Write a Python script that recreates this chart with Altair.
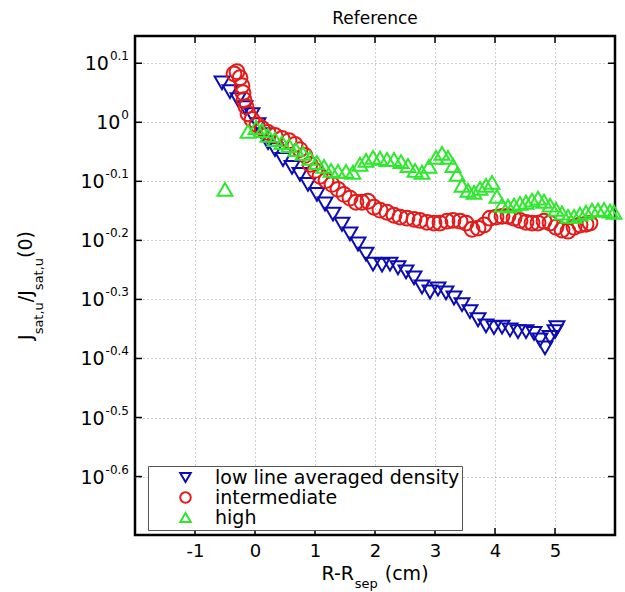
import altair as alt
import pandas as pd

# ---------------- data ----------------
low_x = [-0.55, -0.417, -0.283, -0.167, -0.05, 0.05, 0.133, 0.217, 0.333, 0.467, 0.617, 0.75,
         0.883, 1.033, 1.167, 1.3, 1.45, 1.583, 1.717, 1.85, 1.967, 2.117, 2.25, 2.383, 2.517,
         2.65, 2.783, 2.917, 3.05, 3.183, 3.317, 3.45, 3.583, 3.717, 3.85, 3.983, 4.117, 4.25,
         4.383, 4.517, 4.65, 4.75, 4.833, 4.917, 5.0, 5.033]
low_y = [1.166, 1.127, 1.092, 1.059, 1.030, 0.991, 0.953, 0.924, 0.899, 0.865, 0.839, 0.816,
         0.785, 0.755, 0.727, 0.699, 0.672, 0.647, 0.622, 0.598, 0.575, 0.573, 0.575, 0.567, 0.558,
         0.545, 0.526, 0.516, 0.522, 0.514, 0.504, 0.491, 0.478, 0.463, 0.452, 0.449, 0.450, 0.445,
         0.442, 0.442, 0.439, 0.428, 0.415, 0.432, 0.442, 0.449]

mid_x = [-0.35, -0.3, -0.25, -0.217, -0.2, -0.183, -0.15, -0.117, -0.05, 0.033, 0.117, 0.217,
         0.333, 0.45, 0.567, 0.667, 0.75, 0.833, 0.917, 1.0, 1.083, 1.183, 1.283, 1.383, 1.483,
         1.583, 1.683, 1.783, 1.883, 1.983, 2.083, 2.2, 2.317, 2.417, 2.533, 2.65, 2.75, 2.867,
         2.983, 3.083, 3.2, 3.3, 3.417, 3.517, 3.617, 3.717, 3.817, 3.917, 4.017, 4.117, 4.217,
         4.317, 4.417, 4.517, 4.617, 4.717, 4.817, 4.917, 5.017, 5.117, 5.217, 5.317, 5.417,
         5.517, 5.583]
mid_y = [1.208, 1.218, 1.190, 1.153, 1.122, 1.092, 1.063, 1.034, 1.011, 0.991, 0.976, 0.961,
         0.950, 0.939, 0.931, 0.917, 0.899, 0.879, 0.849, 0.829, 0.810, 0.797, 0.785, 0.770, 0.755,
         0.744, 0.732, 0.732, 0.735, 0.718, 0.710, 0.704, 0.696, 0.691, 0.688, 0.685, 0.682, 0.677,
         0.675, 0.675, 0.680, 0.682, 0.680, 0.675, 0.659, 0.662, 0.670, 0.688, 0.691, 0.693, 0.693,
         0.688, 0.682, 0.677, 0.675, 0.675, 0.680, 0.675, 0.664, 0.657, 0.654, 0.664, 0.670,
         0.672, 0.675]

high_x = [-0.5, -0.117, 0.017, 0.117, 0.217, 0.333, 0.45, 0.567, 0.683, 0.8, 0.917, 1.033, 1.15,
          1.267, 1.383, 1.517, 1.633, 1.75, 1.85, 1.967, 2.083, 2.2, 2.317, 2.433, 2.55, 2.667,
          2.783, 2.9, 3.017, 3.117, 3.217, 3.3, 3.367, 3.45, 3.55, 3.65, 3.75, 3.85, 3.95, 4.033,
          4.117, 4.217, 4.317, 4.417, 4.517, 4.617, 4.717, 4.817, 4.917, 5.017, 5.117, 5.217,
          5.317, 5.417, 5.517, 5.617, 5.717, 5.817, 5.917, 5.983]
high_y = [0.770, 0.965, 0.980, 0.968, 0.950, 0.935, 0.924, 0.913, 0.899, 0.886, 0.869, 0.855, 0.842,
          0.829, 0.826, 0.826, 0.823, 0.849, 0.862, 0.872, 0.869, 0.865, 0.865, 0.858, 0.845, 0.829,
          0.823, 0.842, 0.872, 0.886, 0.872, 0.845, 0.816, 0.782, 0.767, 0.761, 0.773, 0.782, 0.791,
          0.749, 0.724, 0.721, 0.724, 0.729, 0.732, 0.738, 0.744, 0.735, 0.724, 0.712, 0.702, 0.693,
          0.693, 0.699, 0.704, 0.710, 0.710, 0.712, 0.707, 0.704]

series_names = ["low line averaged density", "intermediate", "high"]
series_colors = ["#0c0cb4", "#e41a1a", "#2ee82e"]
series_shapes = ["triangle-down", "circle", "triangle-up"]

x_ticks = [-1, 0, 1, 2, 3, 4, 5]
y_exps = ["-0.6", "-0.5", "-0.4", "-0.3", "-0.2", "-0.1", "0", "0.1"]

# ---------------- tables ----------------
rows = []
for i, (name, xs_, ys_) in enumerate(zip(series_names, [low_x, mid_x, high_x],
                                         [low_y, mid_y, high_y])):
    for a, b in zip(xs_, ys_):
        rows.append({"x": a, "y": b, "series": name, "ord": i})
df = pd.DataFrame(rows)

y_vals = [10 ** float(e) for e in y_exps]
df_xt = pd.DataFrame({"v": x_ticks})
df_yt = pd.DataFrame({"v": y_vals, "e": y_exps})

W, H = 480, 499
FONT = "DejaVu Sans"

# approximate DejaVu Sans advance widths (em)
ADV = {"R": .695, "-": .361, "s": .521, "e": .615, "p": .635, " ": .318,
       "(": .390, ")": .390, "c": .550, "m": .974, "J": .295, "a": .613, "t": .392, ",": .318,
       "u": .634, "/": .337, ".": .318}
def tw(s, size):
    return sum(ADV.get(ch, .636) for ch in s) * size

xs = alt.Scale(domain=[-2, 6], nice=False, zero=False)
ys = alt.Scale(type="log", domain=[0.2, 1.4], nice=False)

grid_kw = dict(grid=True, gridColor="#9a9a9a", gridDash=[1, 3], gridWidth=1,
               ticks=False, tickSize=0, domain=False, title=None)
x_axis = alt.Axis(values=x_ticks, labelFont=FONT, labelFontSize=18, labelColor="black",
                  labelPadding=7,
                  labelExpr="datum.value < 0 ? '-' + format(abs(datum.value), 'd') : format(datum.value, 'd')",
                  **grid_kw)
y_axis = alt.Axis(values=y_vals, labels=False, **grid_kw)

points = alt.Chart(df).mark_point(filled=False, size=220, strokeWidth=2, opacity=1).encode(
    x=alt.X("x:Q", scale=xs, axis=x_axis),
    y=alt.Y("y:Q", scale=ys, axis=y_axis),
    color=alt.Color("series:N", sort=series_names,
                    scale=alt.Scale(domain=series_names, range=series_colors),
                    legend=alt.Legend(title=None)),
    shape=alt.Shape("series:N", sort=series_names,
                    scale=alt.Scale(domain=series_names, range=series_shapes),
                    legend=alt.Legend(title=None)),
    order=alt.Order("ord:Q"),
)

TL = 7
xt_bot = alt.Chart(df_xt).mark_rule(color="black", strokeWidth=1.5).encode(
    x=alt.X("v:Q", scale=xs, axis=x_axis), y=alt.value(H), y2=alt.value(H - TL))
xt_top = alt.Chart(df_xt).mark_rule(color="black", strokeWidth=1.5).encode(
    x=alt.X("v:Q", scale=xs, axis=x_axis), y=alt.value(0), y2=alt.value(TL))
yt_left = alt.Chart(df_yt).mark_rule(color="black", strokeWidth=1.5).encode(
    y=alt.Y("v:Q", scale=ys, axis=y_axis), x=alt.value(0), x2=alt.value(TL))
yt_right = alt.Chart(df_yt).mark_rule(color="black", strokeWidth=1.5).encode(
    y=alt.Y("v:Q", scale=ys, axis=y_axis), x=alt.value(W), x2=alt.value(W - TL))

# y tick labels: "10" with superscript exponent
EXP_SIZE, BASE_SIZE = 12, 19
exp_lab = alt.Chart(df_yt).mark_text(align="right", baseline="alphabetic", font=FONT,
                                     fontSize=EXP_SIZE, dy=-3, color="black").encode(
    y=alt.Y("v:Q", scale=ys, axis=y_axis), x=alt.value(-6), text="e:N")
ten_layers = []
for n in sorted(set(len(e) for e in y_exps)):
    sample = [e for e in y_exps if len(e) == n][0]
    w = tw(sample, EXP_SIZE)
    ten_layers.append(
        alt.Chart(df_yt).transform_filter(f"length(datum.e) == {n}").mark_text(
            align="right", baseline="alphabetic", font=FONT, fontSize=BASE_SIZE, dy=7,
            color="black").encode(
            y=alt.Y("v:Q", scale=ys, axis=y_axis), x=alt.value(-6 - w - 1),
            text=alt.value("10")))

# axis titles built from pieces (for subscripts); each piece: (text, size, shift, gap_before)
def pieces_layer(pieces, horizontal):
    layers = []
    total = sum(tw(t, s) + g for t, s, _, g in pieces)
    pos = W / 2 - total / 2 if horizontal else H / 2 + total / 2
    for t, s, off, g in pieces:
        pos = pos + g if horizontal else pos - g
        if horizontal:
            enc = dict(x=alt.value(pos), y=alt.value(H + 45 + off))
            angle = 0
        else:
            enc = dict(x=alt.value(-103 + off), y=alt.value(pos))
            angle = 270
        layers.append(alt.Chart(df_xt).transform_filter("datum.v == 0").mark_text(
            align="left", baseline="alphabetic", font=FONT, fontSize=s, angle=angle,
            color="black").encode(text=alt.value(t), **enc))
        pos = pos + tw(t, s) if horizontal else pos - tw(t, s)
    return layers

xtitle = pieces_layer([("R-R", 19, 0, 0), ("sep", 13, 8, 0), ("(cm)", 19, 0, 7)], True)
ytitle = pieces_layer([("J", 19, 0, 0), ("sat,u", 13, 11, 0), ("/J", 19, 0, 0),
                       ("sat,u", 13, 11, 0), ("(0)", 19, 0, 0)], False)

title = alt.Chart(df_xt).transform_filter("datum.v == 0").mark_text(
    align="center", baseline="alphabetic", font=FONT, fontSize=17, color="black").encode(
    x=alt.value(W / 2), y=alt.value(-12), text=alt.value("Reference"))

chart = alt.layer(points, xt_bot, xt_top, yt_left, yt_right, exp_lab, *ten_layers,
                  *xtitle, *ytitle, title).properties(
    width=W, height=H,
    autosize=alt.AutoSizeParams(type="none"),
    padding={"left": 135, "top": 36, "right": 10, "bottom": 57},
    background="white",
).configure_view(
    stroke="black", strokeWidth=2.5
).configure_legend(
    orient="none", legendX=13, legendY=430, padding=2, rowPadding=0,
    labelFont=FONT, labelFontSize=19, labelColor="black", labelLimit=400,
    symbolSize=110, symbolStrokeWidth=2, symbolOffset=26, labelOffset=20,
    strokeColor="#555555", fillColor="white", cornerRadius=0,
)

chart.save("out.html", embed_options={"renderer": "svg", "actions": False})
